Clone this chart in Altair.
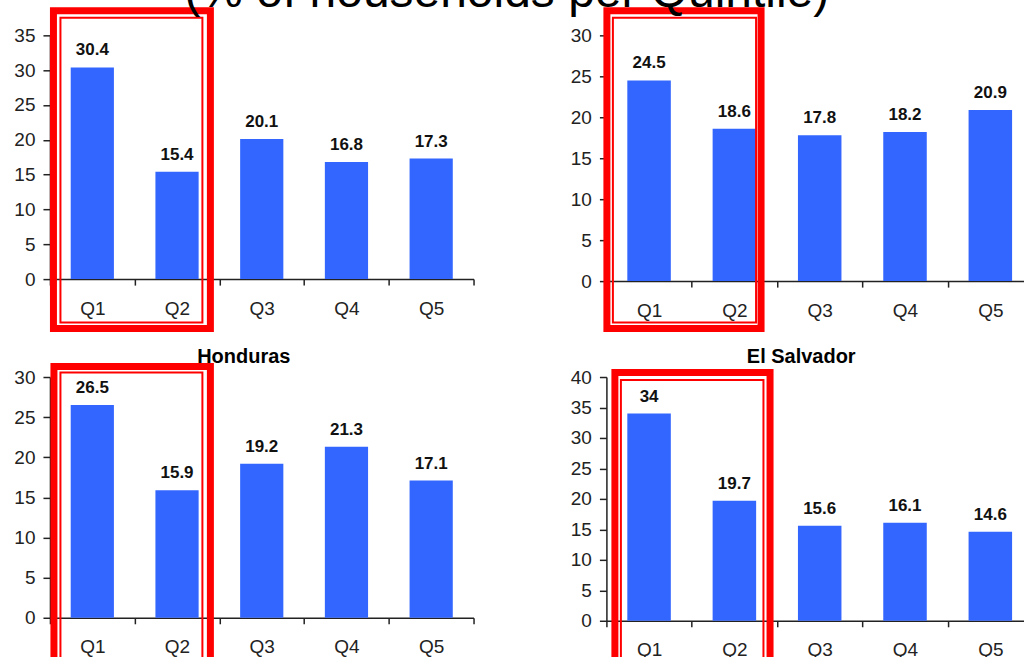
import altair as alt
import pandas as pd

# ---- data ----
quintiles = ["Q1", "Q2", "Q3", "Q4", "Q5"]
top_left_values = [30.4, 15.4, 20.1, 16.8, 17.3]
top_right_values = [24.5, 18.6, 17.8, 18.2, 20.9]
honduras_values = [26.5, 15.9, 19.2, 21.3, 17.1]
el_salvador_values = [34, 19.7, 15.6, 16.1, 14.6]
main_title = "(% of households per Quintile)"
panel_titles = ["", "", "Honduras", "El Salvador"]
y_max = [35, 30, 30, 40]
highlight = ["Q1", "Q2"]

FONT = "Liberation Sans"
BAR = "#3366FF"
RED = "#FF0000"


def panel(values, ymax, title, width, height, outer, inner, title_pos=None):
    df = pd.DataFrame({"q": quintiles, "v": values})
    xs = alt.Scale(domain=quintiles, paddingInner=0, paddingOuter=0)
    x = alt.X("q:N", title=None, scale=xs,
              axis=alt.Axis(labelAngle=0, tickBand="extent"))
    ticks = list(range(0, ymax + 1, 5))
    y = alt.Y("v:Q", title=None,
              scale=alt.Scale(domain=[0, ymax], nice=False),
              axis=alt.Axis(values=ticks, tickCount=len(ticks), labelOverlap=False))
    base = alt.Chart(df)
    bars = base.mark_bar(color=BAR, width=alt.RelativeBandSize(0.51)).encode(x=x, y=y)
    labels = base.mark_text(font=FONT, fontWeight="bold", fontSize=17, dy=-12,
                            baseline="alphabetic", color="#111").encode(
        x=alt.X("q:N", scale=xs), y=alt.Y("v:Q"), text=alt.Text("v:Q"))
    box_df = pd.DataFrame({"a": [highlight[0]], "b": [highlight[1]]})
    layers = [bars, labels]
    for (xo, x2o, yt, yb, sw) in (outer, inner):
        layers.append(
            alt.Chart(box_df).mark_rect(filled=False, color=RED, strokeWidth=sw,
                                        xOffset=xo, x2Offset=x2o).encode(
                x=alt.X("a:N", scale=xs, bandPosition=0),
                x2=alt.X2("b:N", bandPosition=1),
                y=alt.value(yt), y2=alt.value(yb))
        )
    if title:
        layers.append(
            alt.Chart(pd.DataFrame({"t": [title]})).mark_text(
                font=FONT, fontSize=20, fontWeight="bold", color="#000",
                baseline="alphabetic", align="center").encode(
                text="t:N", x=alt.value(title_pos[0]), y=alt.value(title_pos[1]))
        )
    return alt.layer(*layers).properties(width=width, height=height)


tl = panel(top_left_values, y_max[0], panel_titles[0], 424, 244,
           (3.5, -9, -24.5, 293.5, 7), (10.5, -17, -17.5, 287.5, 2))
tr = panel(top_right_values, y_max[1], panel_titles[1], 427, 246,
           (0.5, -16, -24.5, 293.5, 7), (6.5, -21, -17.5, 287.5, 2))
bl = panel(honduras_values, y_max[2], panel_titles[2], 424, 241,
           (4, -9, -10.5, 400, 7), (10.5, -17, -4.5, 400, 2), title_pos=(194, -14))
br = panel(el_salvador_values, y_max[3], panel_titles[3], 427, 244,
           (8.5, -7, -4.5, 400, 7), (14.5, -13.6, 3, 400, 2), title_pos=(195, -14))

row1 = alt.hconcat(tl, tr, spacing=95)
row2 = alt.hconcat(bl, br, spacing=95)

chart = alt.vconcat(row1, row2, spacing=15).properties(
    title=alt.TitleParams(main_title, font=FONT, fontSize=48, fontWeight="normal",
                          color="#000", anchor="middle", offset=-9.5, dx=-17),
    padding={"left": 13, "top": -32, "right": -10, "bottom": 0},
).configure_view(strokeWidth=0).configure_axis(
    labelFont=FONT, labelFontSize=19, labelColor="#222", domainColor="#222",
    tickColor="#222", grid=False, domainWidth=1.5, tickWidth=1.5
).configure_axisX(tickSize=6, labelPadding=14).configure_axisY(tickSize=7, labelPadding=8)

chart.save("out.html", embed_options={"renderer": "svg", "actions": False})
